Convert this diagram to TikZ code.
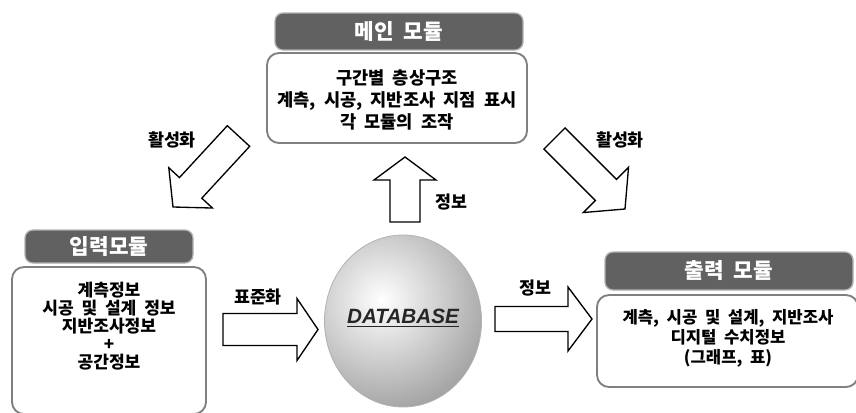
\documentclass[tikz,border=0pt]{standalone}
\usepackage{fontspec}
\setmainfont{Noto Sans CJK KR}[WordSpace=2]
\newfontfamily\dbfont{Liberation Sans}
\usetikzlibrary{shapes.geometric}

% block arrow: tail, angle, length, half shaft, half head, head length
\newcommand{\bigarrow}[6]{%
  \draw[blockarrow,shift={#1},rotate=#2] (0,-#4) -- ({#3-#6},-#4) -- ({#3-#6},-#5) -- (#3,0)
    -- ({#3-#6},#5) -- ({#3-#6},#4) -- (0,#4) -- cycle;}

\begin{document}
\begin{tikzpicture}[x=0.75pt,y=-0.75pt,
  headbox/.style={draw=black!30,line width=1pt,fill=black!62,rounded corners=6pt,
    text=white,font=\fontsize{16}{19}\selectfont\bfseries},
  bodybox/.style={draw=black!50,line width=1.4pt,fill=white,rounded corners=9pt},
  bodytext/.style={align=center,inner sep=0pt},
  blockarrow/.style={draw=black,line width=1pt,fill=white,line join=miter},
  arrowlabel/.style={font=\fontsize{13}{15}\selectfont\bfseries}]
	\clip (0,0) rectangle (856,412);
	% modules
	\node[bodybox,minimum width=195pt,minimum height=67.5pt] (mainbody) at (397,98) {};
	\node[headbox,minimum width=186pt,minimum height=27.75pt] (mainhead) at (399,31.5) {메인 모듈};
	\node[bodytext,font=\fontsize{13.2}{16.5}\selectfont\bfseries] (maintext) at (397,100)
	  {구간별 층상구조\\계측, 시공, 지반조사 지점 표시\\각 모듈의 조작};
	\node[bodybox,minimum width=145.5pt,minimum height=110.25pt] (inbody) at (109,340.5) {};
	\node[headbox,minimum width=126pt,minimum height=24.75pt] (inhead) at (109,246.5) {입력모듈};
	\node[bodytext,font=\fontsize{12.8}{13.6}\selectfont\bfseries] (intext) at (109,326)
	  {계측정보\\시공 및 설계 정보\\지반조사정보\\+\\공간정보};
	\node[bodybox,minimum width=195.75pt,minimum height=69pt] (outbody) at (727.5,341) {};
	\node[headbox,minimum width=186pt,minimum height=28.5pt] (outhead) at (729,271) {출력 모듈};
	\node[bodytext,font=\fontsize{12.5}{15}\selectfont\bfseries] (outtext) at (728,338)
	  {계측, 시공 및 설계, 지반조사\\디지털 수치정보\\(그래프, 표)};
	% database
	\node[ellipse,draw=black!30,line width=0.6pt,minimum width=117.75pt,minimum height=129pt,
	  path picture={\shade[inner color=white,outer color=black!45]
	    ([xshift=-16pt,yshift=16pt]path picture bounding box.center) circle (105pt);}]
	  (db) at (403,321) {};
	\node[font=\dbfont\fontsize{15.5}{18}\selectfont\bfseries\itshape,text=black!85] (dbtext) at (403,318) {\underline{DATABASE}};
	% arrows
	\coordinate (lefttail) at (238.5,136);
	\coordinate (righttail) at (554.5,138.5);
	\coordinate (uptail) at (405,222);
	\coordinate (stdtail) at (223,329.5);
	\coordinate (infotail) at (495,319);
	\bigarrow{(lefttail)}{227.3}{96.6}{15.2}{29.7}{26}
	\bigarrow{(righttail)}{-45}{99.7}{14.9}{32}{27}
	\bigarrow{(uptail)}{90}{65}{15}{31}{23}
	\bigarrow{(stdtail)}{0}{95}{16}{31}{21}
	\bigarrow{(infotail)}{0}{97}{12.5}{32}{24}
	\node[arrowlabel] (leftlabel) at (172,140) {활성화};
	\node[arrowlabel] (rightlabel) at (620,140) {활성화};
	\node[arrowlabel] (uplabel) at (451,202) {정보};
	\node[arrowlabel] (stdlabel) at (258,297) {표준화};
	\node[arrowlabel] (infolabel) at (535,288) {정보};
\end{tikzpicture}
\end{document}
